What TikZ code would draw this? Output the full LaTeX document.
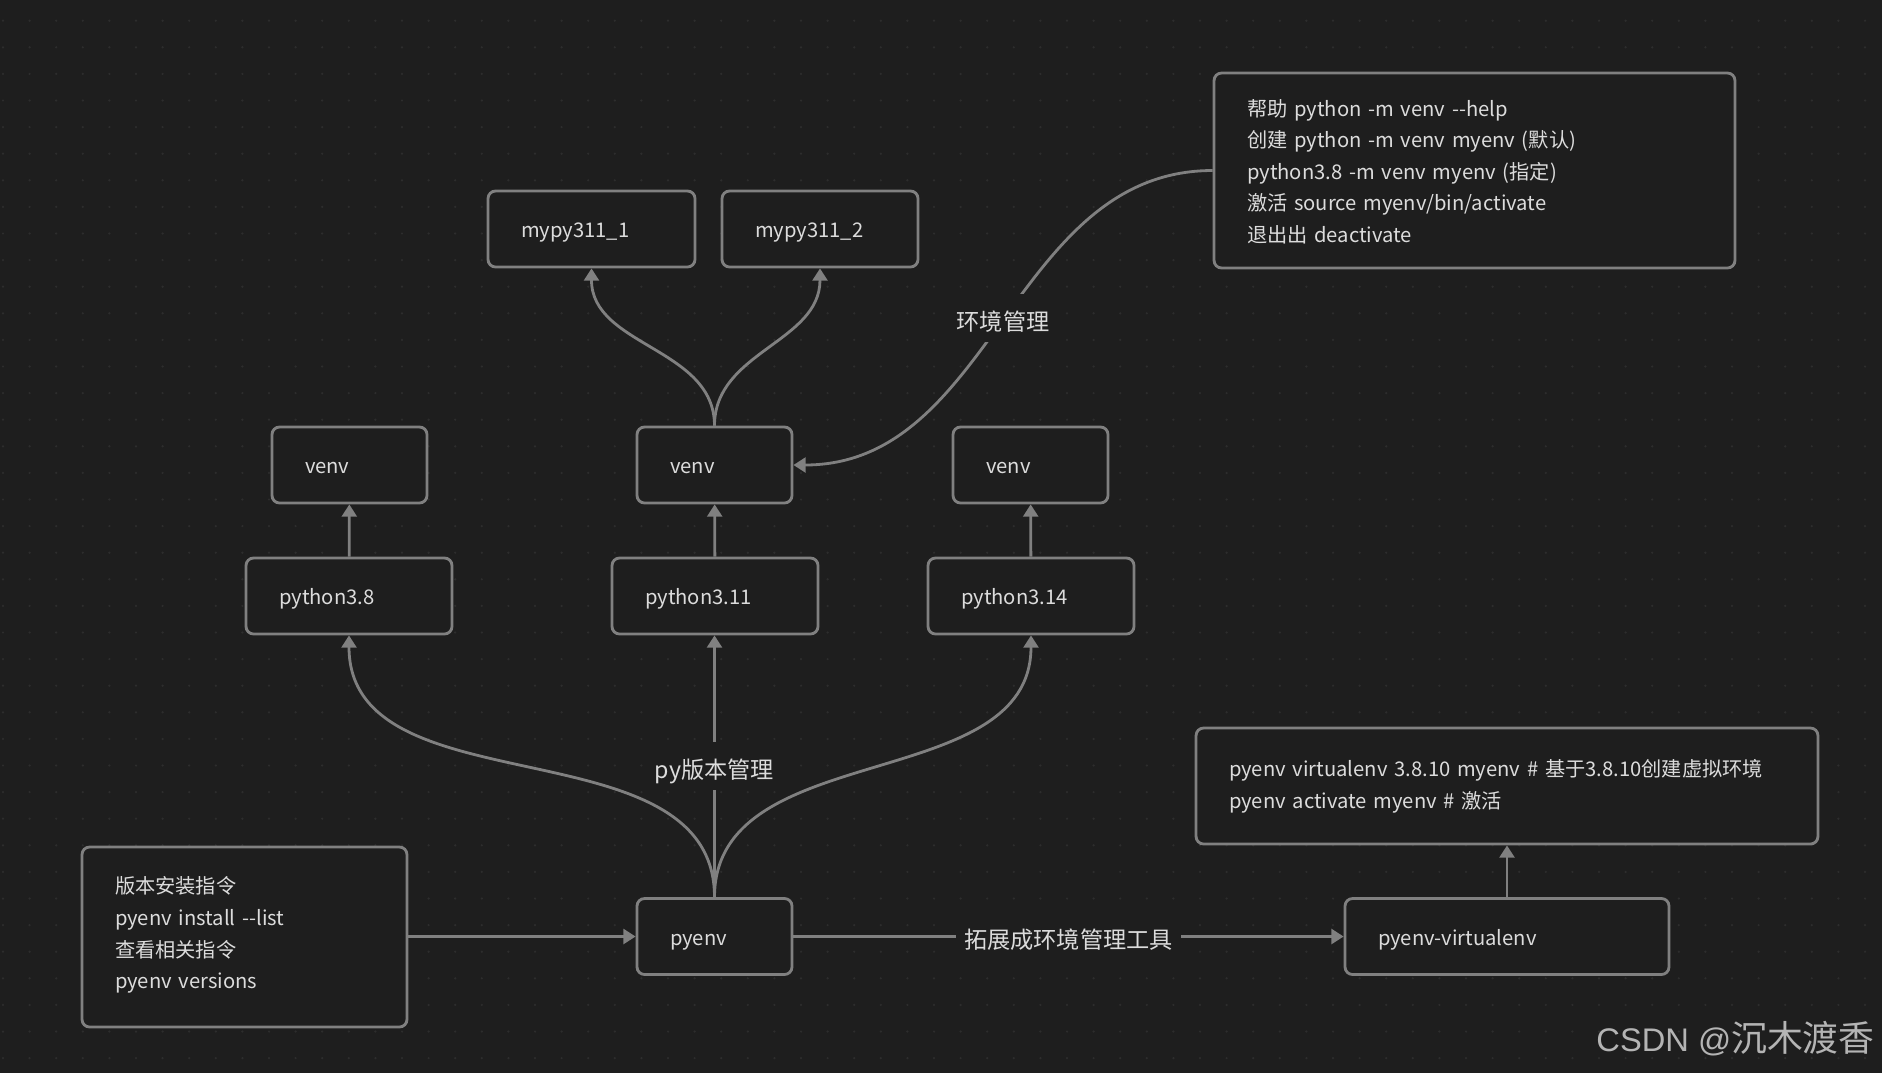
\documentclass[tikz,border=0pt]{standalone}
\usepackage{fontspec}
\setmainfont{Noto Sans CJK SC}
\newfontfamily\marklatin{Liberation Sans}
\usepackage{xcolor}
\usepackage{tikz}
\usetikzlibrary{arrows.meta}
\definecolor{cbg}{HTML}{1E1E1E}
\definecolor{cdot}{HTML}{2D2D2D}
\definecolor{cline}{HTML}{808080}
\definecolor{ctext}{HTML}{DCDCDC}
\definecolor{cmark}{HTML}{B4B4B4}
\tikzset{
  box/.style={draw=cline,fill=cbg,line width=1.6pt,rounded corners=0.15cm,minimum height=1.52cm,
    inner xsep=0.66cm,inner ysep=0pt,align=left,text=ctext,font=\fontsize{11.5pt}{18pt}\selectfont},
  single/.style={box,text height=12pt,text depth=2pt},
  lbl/.style={fill=cbg,text=ctext,inner sep=0.16cm,text height=16pt,text depth=2pt,
    font=\fontsize{13.2pt}{16pt}\selectfont},
  link/.style={draw=cline,line width=1.6pt,-{Triangle[width=8.5pt,length=7pt]}},
}

\begin{document}
\begin{tikzpicture}[x=0.02cm,y=-0.02cm]

% ================= canvas: dark page with dot grid =================
\fill[cbg] (0,0) rectangle (1882,1073);
\useasboundingbox (0,0) rectangle (1882,1073);
\foreach \i in {0,...,70}{
  \foreach \j in {0,...,40}{
    \fill[cdot] ({3+26.6*\i},{20.7+26.6*\j}) circle (0.7pt);
  }
}

% ================= top: virtual environments =================
\node[single,text width=2.82cm] (my1) at (591.5,229) {mypy311\_1};
\node[single,text width=2.60cm] (my2) at (820,229) {mypy311\_2};
\node[box,text width=9.10cm,minimum height=3.9cm,text height=12pt,text depth=74pt] (vcmd) at (1474.5,170.5)
  {帮助 python -m venv -{}-help\\
   创建 python -m venv myenv (默认)\\
   python3.8 -m venv myenv (指定)\\
   激活 source myenv/bin/activate\\
   退出出 deactivate};

% ================= middle: interpreters and their venvs =================
\node[single,text width=1.78cm] (vL) at (349.5,465) {venv};
\node[single,text width=1.78cm] (vM) at (714.5,465) {venv};
\node[single,text width=1.78cm] (vR) at (1030.5,465) {venv};
\node[single,text width=2.80cm] (p38) at (349,596) {python3.8};
\node[single,text width=2.80cm] (p311) at (715,596) {python3.11};
\node[single,text width=2.80cm] (p314) at (1031,596) {python3.14};

% ================= bottom: pyenv and its plugin =================
\node[single,text width=1.78cm] (pyenv) at (714.5,936.5) {pyenv};
\node[box,text width=5.18cm,minimum height=3.6cm,text height=12pt,text depth=61pt] (inst) at (244.5,937)
  {版本安装指令\\pyenv install -{}-list\\查看相关指令\\pyenv versions};
\node[single,text width=5.16cm] (pv) at (1507,936.5) {pyenv-virtualenv};
\node[box,text width=11.12cm,minimum height=2.32cm] (pvcmd) at (1507,786)
  {pyenv virtualenv 3.8.10 myenv \# 基于3.8.10创建虚拟环境\\
   pyenv activate myenv \# 激活};

% ================= connectors =================
\draw[link] (inst.east |- pyenv) -- (pyenv.west);
\draw[link] (pyenv) -- node[lbl] {拓展成环境管理工具} (pv);
\draw[link] (pv) -- (pvcmd);
\draw[link] (pyenv.north) to[out=90,in=-90] (p38.south);
\draw[link] (pyenv.north) to[out=90,in=-90] (p314.south);
\draw[link] (pyenv.north) -- node[lbl] {py版本管理} (pyenv.north |- p311.south);
\draw[link] (p38) -- (vL);
\draw[link] (p311) -- (vM);
\draw[link] (p314) -- (vR);
\draw[link] (vM.north) to[out=90,in=-90] (my1.south);
\draw[link] (vM.north) to[out=90,in=-90] (my2.south);
\draw[link] (vcmd.west) to[out=180,in=0] node[lbl] {环境管理} (vM.east);

% watermark
\node[anchor=east,text=cmark,inner sep=0pt] (mark) at (1875,1039)
  {{\marklatin\fontsize{18.6pt}{22pt}\selectfont CSDN @}{\fontsize{20.4pt}{22pt}\selectfont 沉木渡香}};

\end{tikzpicture}
\end{document}
